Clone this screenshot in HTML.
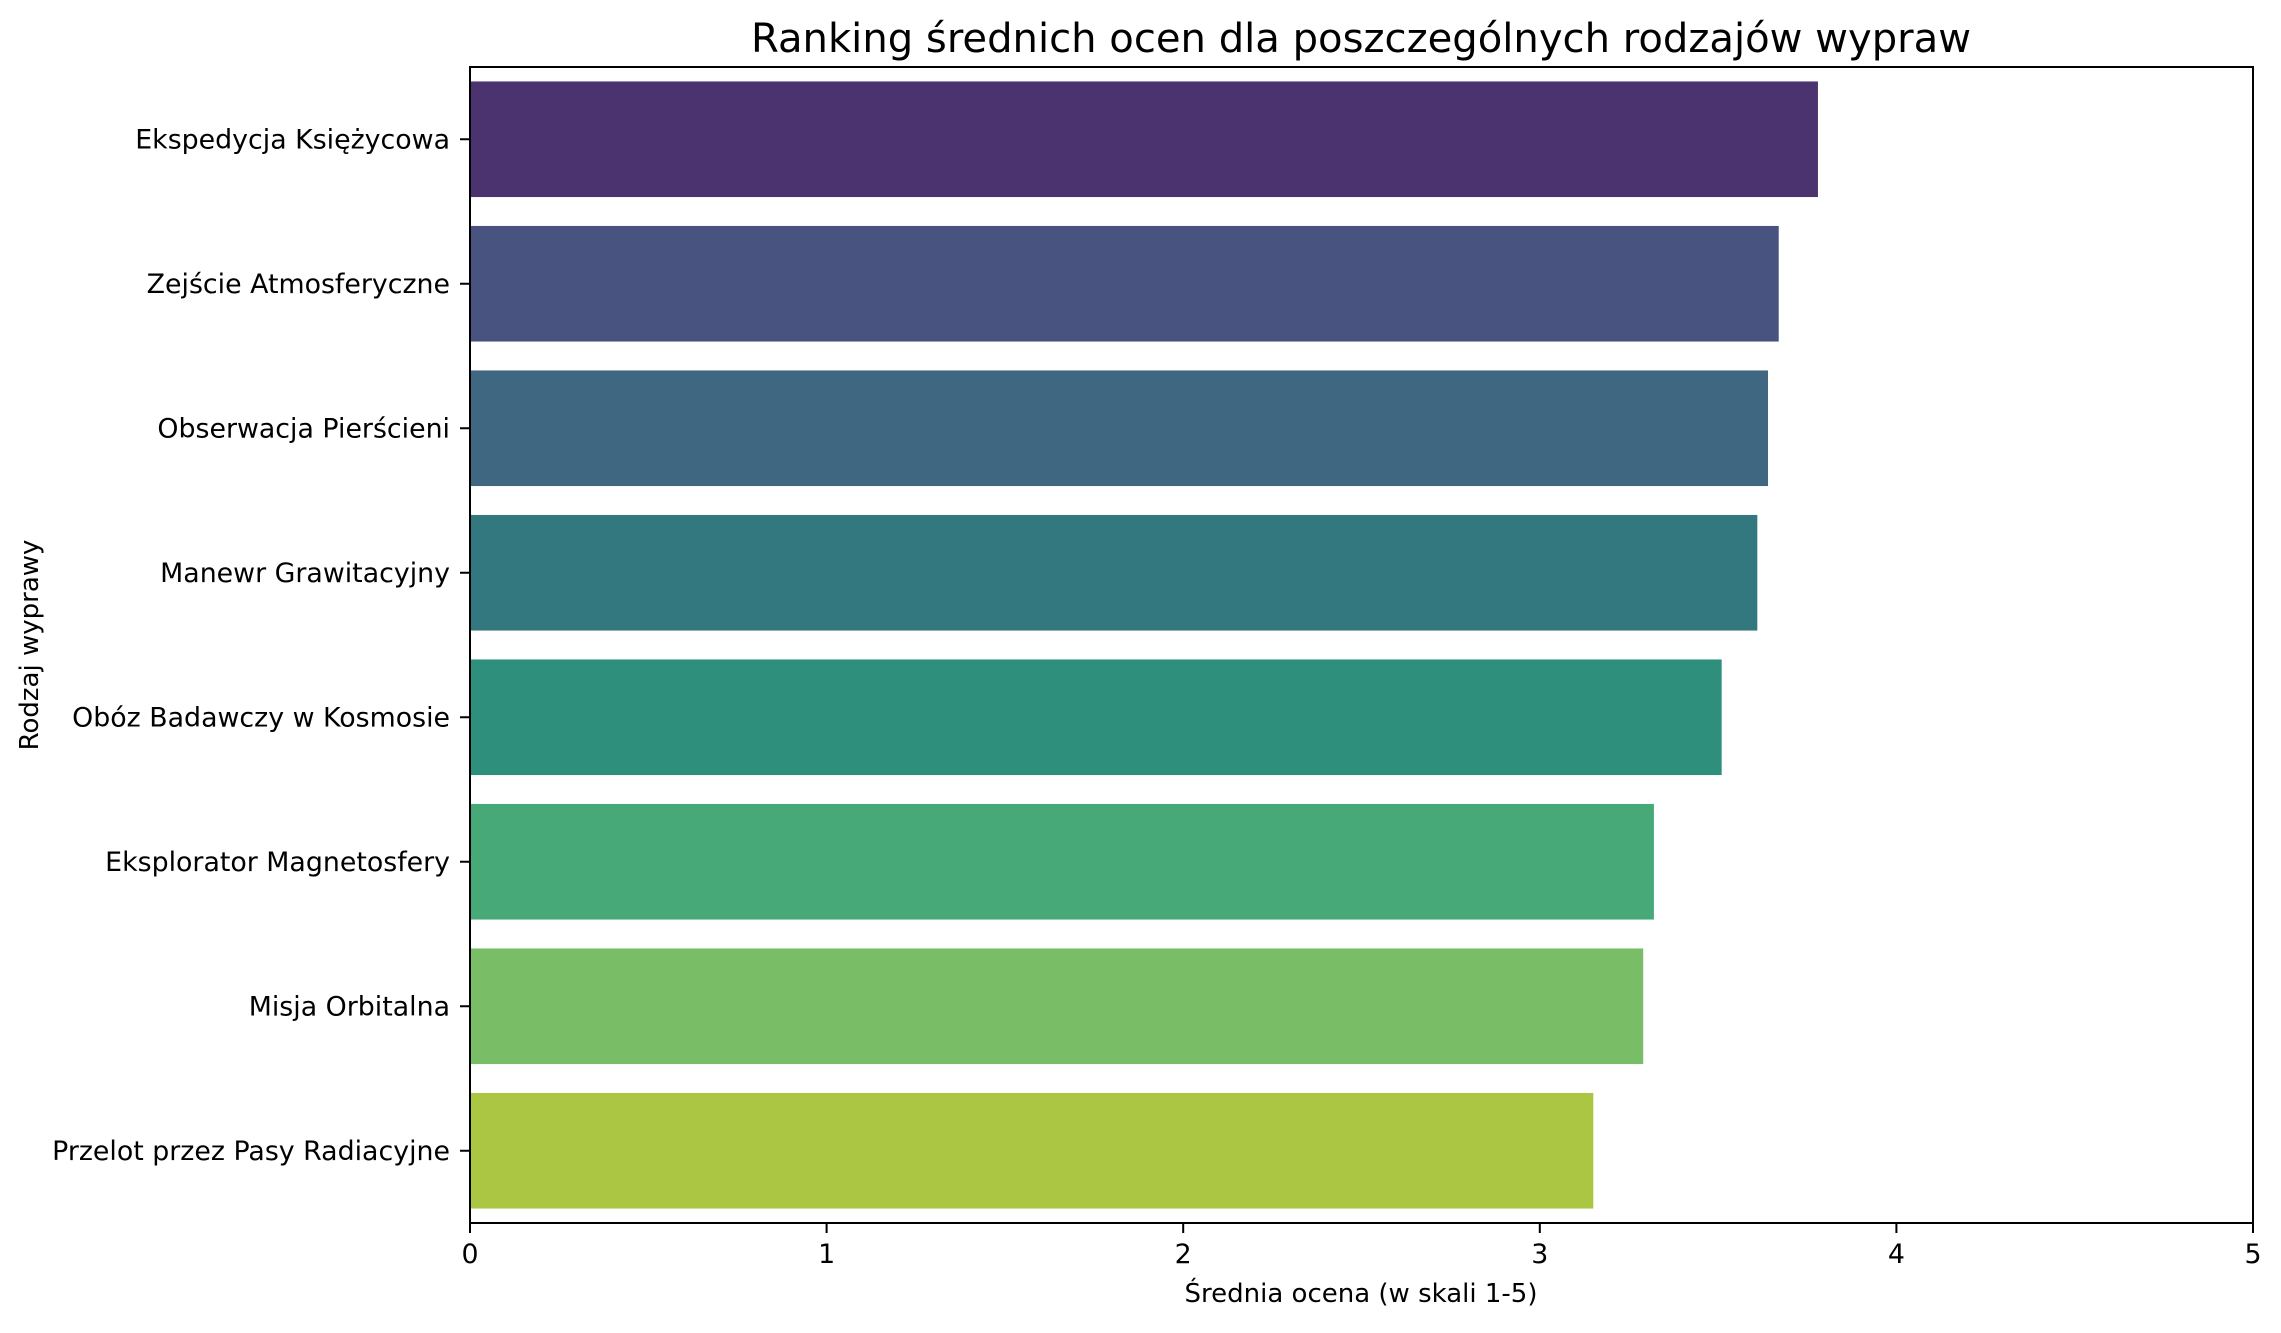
<!DOCTYPE html>
<html><head><meta charset="utf-8"><style>
html,body{margin:0;padding:0;background:#fff;}
svg text{font-family:"DejaVu Sans","Liberation Sans",sans-serif;fill:#000;}
</style></head><body>
<svg id="chart" width="2281" height="1328" xmlns="http://www.w3.org/2000/svg">
<rect x="0" y="0" width="2281" height="1328" fill="#fff"/>
<text x="1361" y="52" font-size="40" text-anchor="middle" textLength="1220" lengthAdjust="spacingAndGlyphs">Ranking średnich ocen dla poszczególnych rodzajów wypraw</text>
<g id="bars"></g>
<g id="yticks"></g>
<g id="xticks"></g>
<rect x="470" y="67" width="1783" height="1156" fill="none" stroke="#000" stroke-width="2"/>
<text x="1361" y="1302" font-size="26" text-anchor="middle">Średnia ocena (w skali 1-5)</text>
<text transform="translate(38,645) rotate(-90)" font-size="26" text-anchor="middle">Rodzaj wyprawy</text>
</svg>
<script>
const categories=["Ekspedycja Księżycowa","Zejście Atmosferyczne","Obserwacja Pierścieni","Manewr Grawitacyjny","Obóz Badawczy w Kosmosie","Eksplorator Magnetosfery","Misja Orbitalna","Przelot przez Pasy Radiacyjne"];
const values=[3.78,3.67,3.64,3.61,3.51,3.32,3.29,3.15];
const xTicks=[0,1,2,3,4,5];
const colors=["#4b3370","#49537f","#3f6782","#34787f","#2e8f7d","#47a878","#79be67","#aac642"];
const L=470,R=2253,T=67,B=1223,XMAX=5;
const ns="http://www.w3.org/2000/svg";
function xs(v){return L+(R-L)*v/XMAX;}
function ys(i){return T+(B-T)*(i+0.5)/categories.length;}
const band=(B-T)/categories.length;
const gb=document.getElementById('bars'),gy=document.getElementById('yticks'),gx=document.getElementById('xticks');
categories.forEach((c,i)=>{
  const r=document.createElementNS(ns,'rect');
  
  
  r.setAttribute('x',xs(0));r.setAttribute('y',ys(i)-band*0.4);
  r.setAttribute('width',xs(values[i])-xs(0));r.setAttribute('height',band*0.8);
  r.setAttribute('fill',colors[i]);gb.appendChild(r);
  const t=document.createElementNS(ns,'line');
  
  
  t.setAttribute('x1',L-10);t.setAttribute('x2',L);t.setAttribute('y1',ys(i));t.setAttribute('y2',ys(i));
  t.setAttribute('stroke','#000');t.setAttribute('stroke-width','2');gy.appendChild(t);
  const tx=document.createElementNS(ns,'text');
  
  
  tx.setAttribute('x',L-20);tx.setAttribute('y',ys(i)+9);tx.setAttribute('font-size','26.8');tx.setAttribute('text-anchor','end');
  tx.textContent=c;gy.appendChild(tx);
});
xTicks.forEach(v=>{
  const t=document.createElementNS(ns,'line');
  
  
  t.setAttribute('x1',xs(v));t.setAttribute('x2',xs(v));t.setAttribute('y1',B);t.setAttribute('y2',B+10);
  t.setAttribute('stroke','#000');t.setAttribute('stroke-width','2');gx.appendChild(t);
  const tx=document.createElementNS(ns,'text');
  
  
  tx.setAttribute('x',xs(v));tx.setAttribute('y',B+40);tx.setAttribute('font-size','26.8');tx.setAttribute('text-anchor','middle');
  tx.textContent=String(v);gx.appendChild(tx);
});
</script>
</body></html>
